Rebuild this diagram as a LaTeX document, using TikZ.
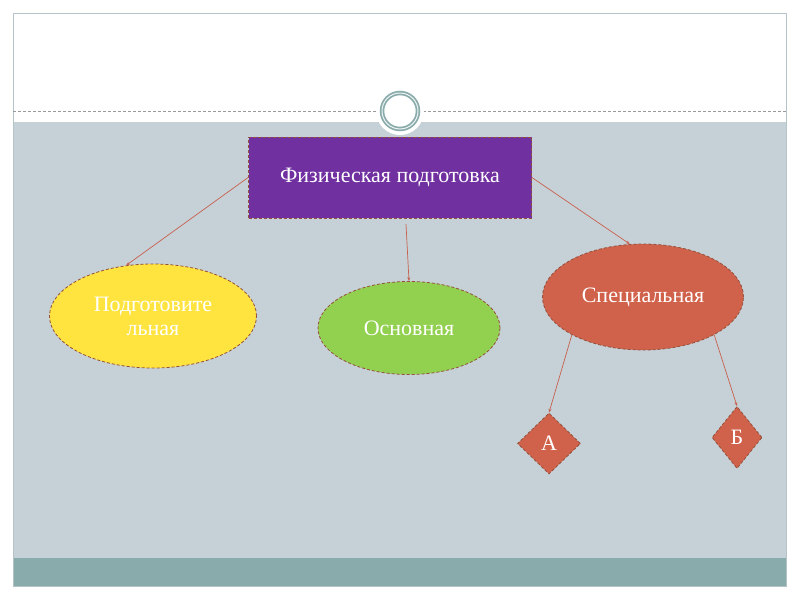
\documentclass[tikz,border=0pt]{standalone}
\usepackage{fontspec}
\setmainfont{Liberation Serif}
\usetikzlibrary{shapes.geometric,arrows.meta}

\definecolor{slidegrey}{HTML}{C5D1D7}
\definecolor{bandteal}{HTML}{8AABAB}
\definecolor{framegrey}{HTML}{B4C4C8}
\definecolor{physpurple}{HTML}{7030A0}
\definecolor{prepyellow}{HTML}{FFE33F}
\definecolor{maingreen}{HTML}{92D050}
\definecolor{specred}{HTML}{D0614A}
\definecolor{edgered}{HTML}{94503C}
\definecolor{linkred}{HTML}{C8604E}

\begin{document}
\begin{tikzpicture}[
			x = 1pt, y = -1pt,
			every node/.style = {font = \fontsize{22}{24}\selectfont, text = white, align = center},
			outline/.style = {draw = edgered, line width = 0.8pt, dash pattern = on 3pt off 2pt},
			blockbox/.style = {outline, rectangle, fill = physpurple, minimum width = 283pt, minimum height = 81pt},
			oval/.style = {outline, ellipse, inner sep = 0pt},
			rhomb/.style = {outline, diamond, fill = specred, inner sep = 0pt},
			link/.style = {draw = linkred, line width = 0.7pt, -{Stealth[length = 4pt, width = 3pt]}}
			]

			% slide background
			\useasboundingbox (0,0) rectangle (800,600);
			\fill[white] (0,0) rectangle (800,600);
			\fill[slidegrey] (13,122) rectangle (786,558);
			\fill[bandteal] (13,558) rectangle (786,586);
			\draw[framegrey, line width = 0.8pt] (13,13) rectangle (786,586);
			\draw[gray!80, dash pattern = on 3pt off 2pt, line width = 0.6pt] (13,111) -- (786,111);

			% ornament
			\fill[white] (400,111) circle (24);
			\draw[bandteal, line width = 4.5pt] (400,111) circle (18);
			\draw[white!85!bandteal, line width = 1pt] (400,111) circle (18);

			% nodes
			\node[blockbox] (phys) at (390,177.5) {Физическая подготовка};
			\node[oval, fill = prepyellow, minimum width = 207pt, minimum height = 104pt] (prep) at (153,316) {Подготовите\\льная};
			\node[oval, fill = maingreen, minimum width = 182pt, minimum height = 93pt] (main) at (409,328) {Основная};
			\node[oval, fill = specred, minimum width = 201pt, minimum height = 106pt] (spec) at (643,297) {Специальная};
			\node[rhomb, minimum width = 63pt, minimum height = 61pt] (grpA) at (549,443.5) {А};
			\node[rhomb, minimum width = 50pt, minimum height = 62pt] (grpB) at (737,437.5) {Б};

			% connectors
			\coordinate (physbot) at (406,224);
			\draw[link] (phys.west) -- (prep.118);
			\draw[link] (physbot) -- (main.north);
			\draw[link] (phys.east) -- (spec.104);
			\draw[link] (spec.208) -- (grpA.north);
			\draw[link] (spec.-28) -- (grpB.north);

		\end{tikzpicture}
\end{document}
